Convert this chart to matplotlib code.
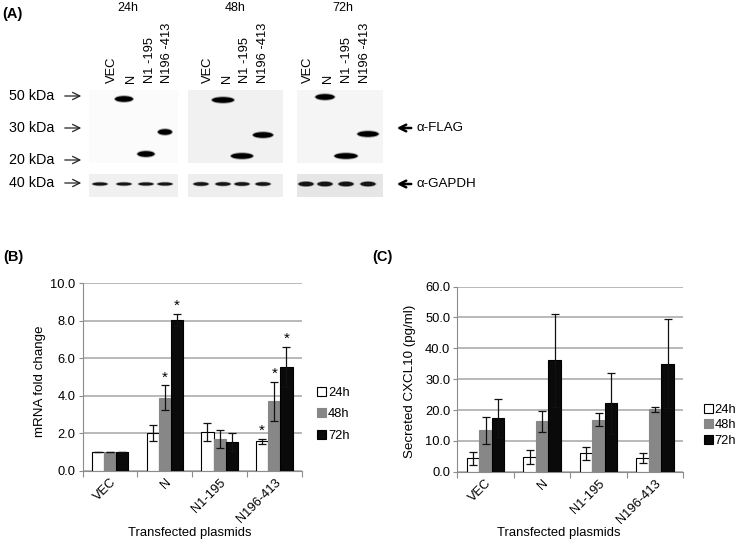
import matplotlib
matplotlib.use("Agg")
import matplotlib.pyplot as plt
import numpy as np
from matplotlib.patches import Rectangle, Ellipse, Patch

plt.rcParams["font.family"] = ["Liberation Sans", "DejaVu Sans"]

# ── Data ─────────────────────────────────────────────────────────────────────
plasmids = ["VEC", "N", "N1-195", "N196-413"]
times = ["24h", "48h", "72h"]

mrna_24 = [1.0, 2.0, 2.07, 1.57]
mrna_48 = [1.0, 3.9, 1.71, 3.7]
mrna_72 = [1.0, 8.05, 1.51, 5.53]
mrna_err_24 = [0.02, 0.43, 0.48, 0.14]
mrna_err_48 = [0.02, 0.65, 0.48, 1.05]
mrna_err_72 = [0.02, 0.33, 0.48, 1.07]
# significance: (plasmid index, time index)
mrna_sig = [(1, 1), (1, 2), (3, 0), (3, 1), (3, 2)]

cxcl_24 = [4.3, 4.8, 5.9, 4.5]
cxcl_48 = [13.4, 16.3, 16.9, 20.3]
cxcl_72 = [17.4, 36.1, 22.2, 35.0]
cxcl_err_24 = [2.1, 2.2, 2.2, 1.7]
cxcl_err_48 = [4.3, 3.3, 2.0, 0.8]
cxcl_err_72 = [6.1, 15.1, 9.9, 14.5]

# western blot (panel A), pixel layout
blot_times = ["24h", "48h", "72h"]
time_x = [128, 235, 343]
lane_labels = ["VEC", "N", "N1 -195", "N196 -413"]
label_x = [[112, 131, 150, 167], [208, 227, 245, 263], [308, 328, 347, 365]]
blot_x = [(89, 178), (188, 283), (297, 383)]
lane_x = [[100, 124, 146, 165], [201, 223, 242, 263], [306, 325, 346, 368]]
flag_y = [[None, 99, 154, 132], [None, 100, 156, 135], [None, 97, 156, 134]]
flag_w = [[0, 18, 17, 14], [0, 22, 22, 20], [0, 19, 23, 21]]
flag_bg = ["#fbfbfb", "#f1f1f1", "#f5f5f5"]
gapdh_bg = ["#f0f0f0", "#eeeeee", "#e6e6e6"]
gapdh_h = [3.0, 3.5, 4.5]
marker_labels = ["50 kDa", "30 kDa", "20 kDa", "40 kDa"]
marker_y = [96, 128, 160, 183]

bar_colors = ["white", "#878787", "#0a0a0a"]
bar_edges = ["black", "#878787", "black"]

fig = plt.figure(figsize=(7.35, 5.5), dpi=100)

# ── Panel A: blot drawn in pixel coordinates ─────────────────────────────────
axA = fig.add_axes([0, 0, 1, 1])
axA.set_xlim(0, 735)
axA.set_ylim(550, 0)
axA.set_axis_off()

axA.text(2, 14, "(A)", fontsize=10.5, fontweight="bold", va="center")
for b, t in enumerate(blot_times):
    x0, x1 = blot_x[b]
    axA.text(time_x[b], 8, t, fontsize=9, ha="center", va="center")
    axA.add_patch(Rectangle((x0, 90), x1 - x0, 73, fc=flag_bg[b], ec="none"))
    axA.add_patch(Rectangle((x0, 174), x1 - x0, 23, fc=gapdh_bg[b], ec="none"))
    for l, lab in enumerate(lane_labels):
        lx = lane_x[b][l]
        axA.text(label_x[b][l], 83, lab, rotation=90, fontsize=9.3, ha="center", va="bottom")
        if flag_y[b][l] is not None:
            w = flag_w[b][l]
            axA.add_patch(Ellipse((lx, flag_y[b][l]), w + 2, 7.5, fc="black", ec="none", alpha=0.35))
            axA.add_patch(Ellipse((lx, flag_y[b][l]), w, 5.5, fc="black", ec="none"))
        axA.add_patch(Ellipse((lx, 184), 17, gapdh_h[b] + 1.5, fc="#222222", ec="none", alpha=0.35))
        axA.add_patch(Ellipse((lx, 184), 15, gapdh_h[b], fc="#151515", ec="none"))

for lab, y in zip(marker_labels, marker_y):
    axA.text(9, y, lab, fontsize=10.3, va="center")
    axA.annotate("", xy=(84, y), xytext=(62, y),
                 arrowprops=dict(arrowstyle="->", lw=0.9, color="#222222", mutation_scale=13))

for lab, y in zip(["α-FLAG", "α-GAPDH"], [128, 184]):
    axA.annotate("", xy=(394, y), xytext=(414, y),
                 arrowprops=dict(arrowstyle="->", lw=1.8, color="black", mutation_scale=12))
    axA.text(417, y, lab, fontsize=9.6, va="center")


# ── Panels B and C ───────────────────────────────────────────────────────────
def bar_panel(rect, series, errors, ymax, ystep, sig=None, leg_anchor=(1.06, 0.3), leg_spacing=0.6):
    ax = fig.add_axes(rect)
    x = np.arange(len(plasmids))
    w = 0.222
    for i, (vals, errs) in enumerate(zip(series, errors)):
        pos = x + (i - 1) * w
        ax.bar(pos, vals, width=w, color=bar_colors[i], edgecolor=bar_edges[i],
               linewidth=0.8, zorder=3, label=times[i])
        ax.errorbar(pos, vals, yerr=errs, fmt="none", ecolor="#111111", elinewidth=0.9,
                    capsize=3, capthick=0.9, zorder=4)
    if sig:
        for g, t in sig:
            top = series[t][g] + errors[t][g]
            ax.annotate("*", xy=(x[g] + (t - 1) * w, top), xytext=(0, 0.5),
                        textcoords="offset points", ha="center", va="bottom", fontsize=11)
    ax.set_xlim(-0.5, len(plasmids) - 0.5)
    ax.set_ylim(0, ymax)
    yt = np.arange(0, ymax + ystep / 2, ystep)
    ax.set_yticks(yt)
    ax.set_yticklabels([f"{v:.1f}" for v in yt], fontsize=9.3)
    ax.yaxis.grid(True, color="#a6a6a6", linewidth=1.1, zorder=0)
    ax.set_axisbelow(True)
    for s in ["top", "right"]:
        ax.spines[s].set_visible(False)
    ax.spines["left"].set_color("#8c8c8c")
    ax.spines["bottom"].set_color("#8c8c8c")
    ax.tick_params(axis="y", length=3, color="#8c8c8c", pad=2)
    ax.set_xticks(np.arange(-0.5, len(plasmids), 1.0), minor=False)
    ax.set_xticklabels([])
    ax.tick_params(axis="x", which="major", length=4, color="#8c8c8c")
    ax.set_xticks(x, minor=True)
    ax.set_xticklabels(plasmids, minor=True, rotation=45, ha="right",
                       rotation_mode="anchor", fontsize=9.3)
    ax.tick_params(axis="x", which="minor", length=0, pad=4)
    handles = [Patch(fc=bar_colors[i], ec="black" if i != 1 else bar_colors[i], lw=0.8) for i in range(3)]
    ax.legend(handles, times, loc="center left", bbox_to_anchor=leg_anchor, frameon=False,
              fontsize=9.3, handlelength=0.7, handleheight=0.7, handletextpad=0.15,
              labelspacing=leg_spacing, borderaxespad=0, borderpad=0)
    return ax


axB = bar_panel([0.1125, 0.1442, 0.298, 0.3409],
                [mrna_24, mrna_48, mrna_72], [mrna_err_24, mrna_err_48, mrna_err_72],
                10, 2, sig=mrna_sig, leg_anchor=(1.07, 0.30), leg_spacing=0.72)
axC = bar_panel([0.6222, 0.1424, 0.3075, 0.3364],
                [cxcl_24, cxcl_48, cxcl_72], [cxcl_err_24, cxcl_err_48, cxcl_err_72],
                60, 10, leg_anchor=(1.09, 0.25), leg_spacing=0.25)

fig.text(3 / 735, 1 - 257 / 550, "(B)", fontsize=10.5, fontweight="bold", va="center")
fig.text(372 / 735, 1 - 257 / 550, "(C)", fontsize=10.5, fontweight="bold", va="center")
fig.text(40 / 735, 1 - 381 / 550, "mRNA fold change", rotation=90, fontsize=9.6, ha="center", va="center")
fig.text(410 / 735, 1 - 381 / 550, "Secreted CXCL10 (pg/ml)", rotation=90, fontsize=9.6, ha="center", va="center")
fig.text(190 / 735, 1 - 533 / 550, "Transfected plasmids", fontsize=9.4, ha="center", va="center")
fig.text(559 / 735, 1 - 533 / 550, "Transfected plasmids", fontsize=9.4, ha="center", va="center")

fig.savefig("out.png", dpi=100, facecolor="white")
